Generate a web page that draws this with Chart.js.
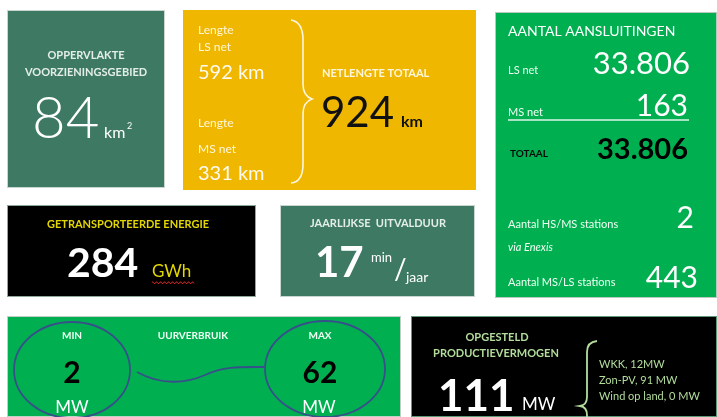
<!DOCTYPE html>
<html><head><meta charset="utf-8">
<script src="https://cdn.jsdelivr.net/npm/chart.js@4/dist/chart.umd.min.js"></script>
<style>html,body{margin:0;padding:0;background:#fff;}canvas{display:block;}</style>
</head><body>
<canvas id="c" width="717" height="417"></canvas>
<script>
// ---- data ----
const areaKm2 = [84];
const netLengthLabels = ['LS net', 'MS net'];
const netLengthKm = [592, 331];
const netLengthTotal = [924];
const connLabels = ['LS net', 'MS net', 'TOTAAL'];
const connValues = ['33.806', '163', '33.806'];
const stationLabels = ['Aantal HS/MS stations', 'Aantal MS/LS stations'];
const stationValues = [2, 443];
const energyGWh = [284];
const outageMinPerYear = [17];
const hourlyLabels = ['MIN', 'MAX'];
const hourlyMW = [2, 62];
const productionLabels = ['WKK', 'Zon-PV', 'Wind op land'];
const productionMW = [12, 91, 0];
const productionTotal = [111];

const TEAL = '#3e7a63', YELLOW = '#efb700', GREEN = '#00b050', BLACK = '#000000';
const FONT = 'Lato, "Open Sans", sans-serif';

const dashboard = {
  id: 'dashboard',
  afterDraw(chart) {
    const ctx = chart.ctx, sx = chart.scales.x, sy = chart.scales.y;
    const X = v => sx.getPixelForValue(v), Y = v => sy.getPixelForValue(v);
    const rect = (x0, y0, x1, y1, c, edge) => {
      ctx.fillStyle = c; ctx.fillRect(X(x0), Y(y0), X(x1) - X(x0), Y(y1) - Y(y0));
      if (edge) { ctx.strokeStyle = edge; ctx.lineWidth = 1; ctx.strokeRect(X(x0) + .5, Y(y0) + .5, X(x1) - X(x0) - 1, Y(y1) - Y(y0) - 1); }
    };
    const txt = (s, x, y, size, color, opts = {}) => {
      ctx.font = `${opts.style || ''} ${opts.weight || 400} ${size}px ${FONT}`;
      ctx.fillStyle = color; ctx.textAlign = opts.align || 'left'; ctx.textBaseline = opts.base || 'alphabetic';
      if (opts.max) ctx.fillText(s, X(x), Y(y), opts.max); else ctx.fillText(s, X(x), Y(y));
      return ctx.measureText(s).width;
    };
    ctx.save();
    // Tile 1
    rect(7, 10, 165, 188, TEAL, '#c9d6cf');
    txt('OPPERVLAKTE', 86, 59, 11, '#e4eee9', {align: 'center', weight: 700, max: 84});
    txt('VOORZIENINGSGEBIED', 86, 76, 11, '#e4eee9', {align: 'center', weight: 700, max: 126});
    txt(String(areaKm2[0]), 32, 138, 58, '#ffffff', {weight: 300});
    txt('km', 104, 138, 16, '#ffffff');
    txt('2', 127, 129, 9, '#ffffff');

    // Tile 2
    rect(183, 10, 476, 190, YELLOW);
    txt('Lengte', 198, 34, 12, '#fff6dc');
    txt(netLengthLabels[0], 198, 51, 12, '#fff6dc');
    txt(netLengthKm[0] + ' km', 198, 79, 20, '#fffaf0');
    txt('Lengte', 198, 127, 12, '#fff6dc');
    txt(netLengthLabels[1], 198, 153, 12, '#fff6dc');
    txt(netLengthKm[1] + ' km', 198, 180, 20, '#fffaf0');
    // brace
    ctx.strokeStyle = '#fff6e0'; ctx.lineWidth = 1.6; ctx.beginPath();
    ctx.moveTo(X(291), Y(20));
    ctx.quadraticCurveTo(X(303), Y(22), X(303), Y(40));
    ctx.lineTo(X(303), Y(84));
    ctx.quadraticCurveTo(X(303), Y(96), X(312), Y(99));
    ctx.quadraticCurveTo(X(303), Y(102), X(303), Y(114));
    ctx.lineTo(X(303), Y(164));
    ctx.quadraticCurveTo(X(303), Y(182), X(291), Y(183));
    ctx.stroke();
    txt('NETLENGTE TOTAAL', 322, 77, 11, '#fff6dc', {weight: 700, max: 117});
    txt(String(netLengthTotal[0]), 321, 127, 42, '#111111', {weight: 400});
    txt('km', 401, 127, 16, '#111111', {weight: 700});

    // Tile 3
    rect(495, 12, 717, 298, GREEN, '#b8c8bf');
    txt('AANTAL AANSLUITINGEN', 508, 36, 14, '#ffffff', {max: 178});
    txt(connLabels[0], 508, 74, 11, '#f0fff4');
    txt(connValues[0], 690, 74, 31, '#ffffff', {align: 'right'});
    txt(connLabels[1], 508, 116, 11, '#f0fff4');
    txt(connValues[1], 688, 116, 30, '#ffffff', {align: 'right'});
    ctx.strokeStyle = '#e0f5e8'; ctx.lineWidth = 1.5; ctx.beginPath();
    ctx.moveTo(X(508), Y(120)); ctx.lineTo(X(689), Y(120)); ctx.stroke();
    txt(connLabels[2], 510, 157, 10, '#0a0a0a', {weight: 700});
    txt(connValues[2], 688, 159, 29, '#000000', {align: 'right', weight: 700});
    txt(stationLabels[0], 508, 228, 11, '#f0fff4');
    txt(String(stationValues[0]), 694, 228, 30, '#ffffff', {align: 'right'});
    txt('via Enexis', 508, 251, 11, '#f0fff4', {style: 'italic'});
    txt(stationLabels[1], 508, 286, 11, '#f0fff4');
    txt(String(stationValues[1]), 698, 288, 30, '#ffffff', {align: 'right'});

    // Tile 4
    rect(7, 205, 256, 297, BLACK, '#8fa89a');
    txt('GETRANSPORTEERDE ENERGIE', 128, 228, 11, '#e2d700', {align: 'center', weight: 700, max: 169});
    txt(String(energyGWh[0]), 67, 277, 41, '#ffffff', {weight: 700});
    txt('GWh', 152, 277, 17, '#e2d700');
    ctx.strokeStyle = '#d02020'; ctx.lineWidth = 1; ctx.beginPath();
    for (let i = 0; i <= 42; i++) { const px = X(152 + i), py = Y(282 + (i % 4 < 2 ? 0 : 1.5)); i ? ctx.lineTo(px, py) : ctx.moveTo(px, py); }
    ctx.stroke();

    // Tile 5
    rect(280, 205, 475, 297, TEAL, '#c9d6cf');
    txt('JAARLIJKSE  UITVALDUUR', 378, 227, 11, '#e4eee9', {align: 'center', weight: 700, max: 143});
    txt(String(outageMinPerYear[0]), 315, 277, 42, '#ffffff', {weight: 700});
    txt('min', 371, 262, 13, '#ffffff');
    txt('/', 394, 279, 28, '#ffffff');
    txt('jaar', 406, 282, 14, '#ffffff');

    // Tile 6
    rect(7, 316, 401, 417, GREEN, '#c0d0c6');
    ctx.strokeStyle = '#37508a'; ctx.lineWidth = 1.8;
    ctx.beginPath(); ctx.ellipse(X(72), Y(370), 58, 48, 0, 0, Math.PI * 2); ctx.stroke();
    ctx.beginPath(); ctx.ellipse(X(325), Y(369), 60, 48, 0, 0, Math.PI * 2); ctx.stroke();
    ctx.beginPath(); ctx.moveTo(X(137), Y(372));
    ctx.bezierCurveTo(X(160), Y(385), X(185), Y(384), X(205), Y(375));
    ctx.bezierCurveTo(X(225), Y(366), X(240), Y(367), X(265), Y(367));
    ctx.stroke();
    txt(hourlyLabels[0], 72, 339, 10, '#f0fff4', {align: 'center', weight: 700});
    txt(String(hourlyMW[0]), 72, 383, 30, '#000000', {align: 'center', weight: 700});
    txt('MW', 72, 413, 17, '#ffffff', {align: 'center'});
    txt('UURVERBRUIK', 193, 339, 10, '#f0fff4', {align: 'center', weight: 700, max: 82});
    txt(hourlyLabels[1], 320, 339, 10, '#f0fff4', {align: 'center', weight: 700});
    txt(String(hourlyMW[1]), 320, 383, 30, '#000000', {align: 'center', weight: 700});
    txt('MW', 319, 413, 17, '#ffffff', {align: 'center'});

    // Tile 7
    rect(411, 316, 717, 417, BLACK, '#5d9a78');
    txt('OPGESTELD', 497, 341, 11, '#b3dd9c', {align: 'center', weight: 700, max: 67});
    txt('PRODUCTIEVERMOGEN', 496, 357, 11, '#b3dd9c', {align: 'center', weight: 700, max: 128});
    txt(String(productionTotal[0]), 438, 411, 44, '#ffffff', {weight: 700});
    txt('MW', 522, 410, 17, '#ffffff');
    ctx.strokeStyle = '#b3dd9c'; ctx.lineWidth = 1.8; ctx.beginPath();
    ctx.moveTo(X(597), Y(341));
    ctx.quadraticCurveTo(X(587), Y(342), X(587), Y(352));
    ctx.lineTo(X(587), Y(397));
    ctx.quadraticCurveTo(X(587), Y(405), X(580), Y(406));
    ctx.quadraticCurveTo(X(587), Y(407), X(587), Y(415));
    ctx.lineTo(X(587), Y(420));
    ctx.stroke();
    productionLabels.forEach((l, i) => {
      const s = i === 0 ? `${l}, ${productionMW[i]}MW` : `${l}, ${productionMW[i]} MW`;
      txt(s, 599, 368 + i * 16, 11, '#b3dd9c', {max: 118});
    });
    ctx.restore();
  }
};

new Chart(document.getElementById('c'), {
  type: 'scatter',
  data: { datasets: [{ data: [], pointRadius: 0 }] },
  options: {
    responsive: false, animation: false, devicePixelRatio: 1,
    layout: { padding: 0 },
    plugins: { legend: { display: false }, tooltip: { enabled: false } },
    scales: {
      x: { type: 'linear', min: 0, max: 717, display: false },
      y: { type: 'linear', min: 0, max: 417, reverse: true, display: false }
    }
  },
  plugins: [dashboard]
});
</script>
</body></html>
